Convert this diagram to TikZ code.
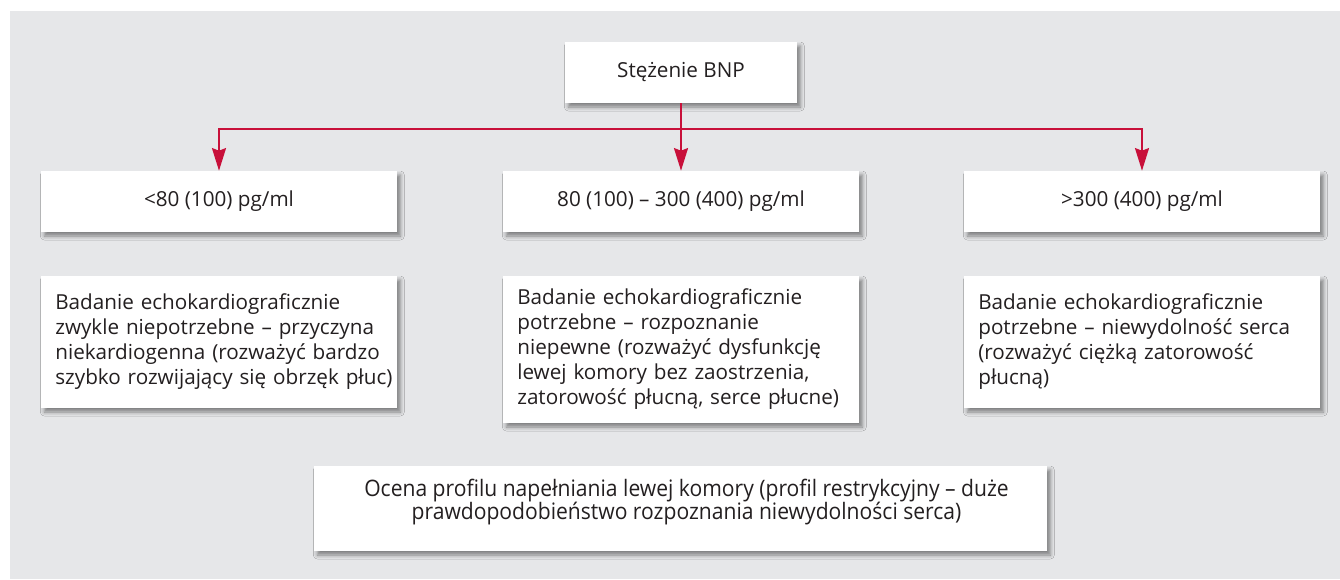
\documentclass[tikz,border=0pt]{standalone}
\usepackage{fontspec}
\setmainfont{Open Sans}
\usetikzlibrary{arrows.meta,shadows.blur}
\definecolor{bnpred}{RGB}{200,16,58}
\definecolor{panelgray}{RGB}{230,231,233}
\definecolor{inktext}{RGB}{35,31,32}
\newcommand{\bodysize}{\fontsize{15.5pt}{18.75pt}\selectfont}
\newcommand{\narrowsize}{\fontsize{17pt}{17.25pt}\selectfont\addfontfeature{FakeStretch=0.93}}
\tikzset{
	card/.style={fill=white, text=inktext, inner sep=0pt,
		blur shadow={shadow xshift=2.5pt, shadow yshift=-3pt, shadow blur radius=3pt, shadow opacity=45}},
	levelbox/.style={card, minimum width=267pt, minimum height=45.75pt, font=\bodysize},
	notebox/.style={card, minimum width=267pt, text width=262pt, align=left, font=\bodysize,
		execute at begin node={\leftskip=8.25pt}},
	redline/.style={draw=bnpred, line width=1.5pt},
	redarrow/.style={redline, -{Stealth[length=17pt, width=10.5pt, inset=2pt]}}
}

\begin{document}
\begin{tikzpicture}[x=0.75pt,y=-0.75pt]
	\useasboundingbox (0,0) rectangle (1340,579);
	\fill[white] (0,0) rectangle (1340,579);
	\fill[panelgray] (10,11) rectangle (1340,579);

	\node[card, minimum width=174pt, minimum height=45.75pt, font=\bodysize] (bnp) at (681,72.5) {Stężenie BNP};

	\node[levelbox] (low) at (219,201.5) {<80 (100) pg/ml};
	\node[levelbox] (mid) at (681,201.5) {80 (100) – 300 (400) pg/ml};
	\node[levelbox] (high) at (1142,201.5) {>300 (400) pg/ml};

	\node[notebox, minimum height=99pt] (lownote) at (219,342)
		{Badanie echokardiograficznie\\zwykle niepotrzebne – przyczyna\\niekardiogenna (rozważyć bardzo\\szybko rozwijający się obrzęk płuc)};
	\node[notebox, minimum height=110.25pt] (midnote) at (681,349.5)
		{Badanie echokardiograficznie\\potrzebne – rozpoznanie\\niepewne (rozważyć dysfunkcję\\lewej komory bez zaostrzenia,\\zatorowość płucną, serce płucne)};
	\node[notebox, minimum height=99pt] (highnote) at (1142,342)
		{Badanie echokardiograficznie\\potrzebne – niewydolność serca\\(rozważyć ciężką zatorowość\\płucną)};

	\node[card, minimum width=549.75pt, minimum height=63.75pt, text depth=14.5pt, align=center, font=\narrowsize] (profile) at (680.5,508.5)
		{\hspace*{9pt}Ocena profilu napełniania lewej komory (profil restrykcyjny – duże\\\hspace*{9pt}prawdopodobieństwo rozpoznania niewydolności serca)};

	\coordinate (split) at (681,129);
	\draw[redarrow] (bnp.south) -- (mid.north);
	\draw[redarrow] (split) -| (low.north);
	\draw[redarrow] (split) -| (high.north);
\end{tikzpicture}
\end{document}
